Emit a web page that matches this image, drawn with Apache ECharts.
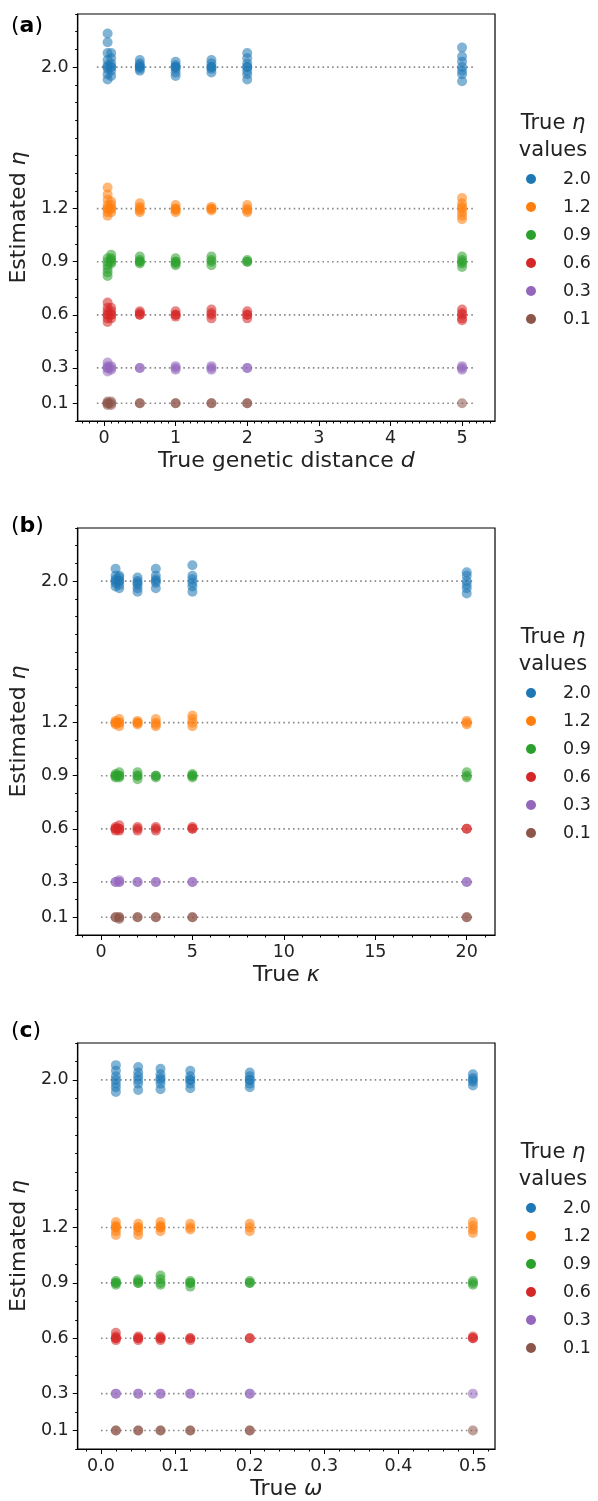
<!DOCTYPE html>
<html>
<head>
<meta charset="utf-8">
<script src="https://cdn.jsdelivr.net/npm/echarts@6/dist/echarts.min.js"></script>
<style>
  html, body { margin: 0; padding: 0; background: #fff; }
  #chart { width: 598px; height: 1501px; }
</style>
</head>
<body>
<div id="chart"></div>
<script>
// true eta values + colours (tab10)
const etaNames = ['2.0', '1.2', '0.9', '0.6', '0.3', '0.1'];
const etaValues = [2.0, 1.2, 0.9, 0.6, 0.3, 0.1];
const etaColors = ['#1f77b4', '#ff7f0e', '#2ca02c', '#d62728', '#9467bd', '#8c564b'];
const yTicks = [0.1, 0.3, 0.6, 0.9, 1.2, 2.0];

// (a) true genetic distance d
const dValues = [0.05, 0.1, 0.5, 1, 1.5, 2, 5];
const xTicksA = [0, 1, 2, 3, 4, 5];
const estA_20 = [[2.19, 2.14, 2.08, 2.04, 2.01, 2.0, 1.99, 1.96, 1.93], [2.08, 2.05, 2.02, 2.0, 2.0, 1.98, 1.95], [2.04, 2.02, 2.01, 2.0, 2.0, 1.99, 1.98], [2.03, 2.01, 2.0, 2.0, 1.99, 1.97, 1.95], [2.04, 2.02, 2.0, 2.0, 1.99, 1.97], [2.08, 2.05, 2.02, 2.0, 2.0, 1.98, 1.96, 1.93], [2.11, 2.06, 2.03, 2.0, 1.98, 1.96, 1.92]];
const estA_12 = [[1.32, 1.28, 1.25, 1.22, 1.2, 1.2, 1.18, 1.16], [1.24, 1.22, 1.2, 1.2, 1.18], [1.23, 1.21, 1.2, 1.19, 1.18], [1.22, 1.2, 1.2, 1.19, 1.18], [1.21, 1.2, 1.2, 1.19], [1.22, 1.2, 1.19, 1.18], [1.26, 1.23, 1.21, 1.2, 1.18, 1.16, 1.14]];
const estA_09 = [[0.92, 0.9, 0.88, 0.86, 0.84, 0.82], [0.94, 0.92, 0.91, 0.9, 0.89], [0.93, 0.91, 0.9, 0.9, 0.89], [0.92, 0.9, 0.9, 0.89, 0.88], [0.93, 0.91, 0.9, 0.88], [0.91, 0.9, 0.9], [0.93, 0.91, 0.9, 0.89, 0.87]];
const estA_06 = [[0.67, 0.64, 0.62, 0.6, 0.6, 0.58, 0.56], [0.64, 0.62, 0.6, 0.6, 0.58], [0.62, 0.61, 0.6, 0.6], [0.62, 0.6, 0.6, 0.59], [0.63, 0.61, 0.6, 0.58], [0.62, 0.6, 0.6, 0.58], [0.63, 0.61, 0.6, 0.58, 0.57]];
const estA_03 = [[0.33, 0.31, 0.3, 0.3, 0.28], [0.31, 0.3, 0.29], [0.3, 0.3], [0.31, 0.3, 0.29], [0.31, 0.3, 0.29], [0.3, 0.3], [0.31, 0.3, 0.29]];
const estA_01 = [[0.11, 0.1, 0.1, 0.09], [0.11, 0.1, 0.09], [0.1, 0.1], [0.1, 0.1], [0.1, 0.1], [0.1, 0.1], [0.1]];

// (b) true kappa
const kappaValues = [0.8, 1, 2, 3, 5, 20];
const xTicksB = [0, 5, 10, 15, 20];
const estB_20 = [[2.07, 2.03, 2.01, 2.0, 1.99, 1.97], [2.03, 2.02, 2.0, 2.0, 1.98, 1.96], [2.02, 2.0, 1.99, 1.98, 1.96, 1.94], [2.07, 2.03, 2.01, 2.0, 1.99, 1.96], [2.09, 2.03, 2.01, 1.99, 1.97, 1.94], [2.05, 2.03, 2.0, 1.98, 1.96, 1.93]];
const estB_12 = [[1.21, 1.2, 1.2, 1.19], [1.22, 1.2, 1.2, 1.18], [1.21, 1.2, 1.2, 1.19], [1.22, 1.2, 1.19, 1.18], [1.24, 1.22, 1.2, 1.18], [1.21, 1.2, 1.19]];
const estB_09 = [[0.91, 0.9, 0.9, 0.89], [0.92, 0.9, 0.9, 0.89], [0.92, 0.9, 0.9, 0.88], [0.9, 0.9, 0.89], [0.91, 0.9, 0.9, 0.89], [0.92, 0.9, 0.89]];
const estB_06 = [[0.61, 0.6, 0.6, 0.59], [0.62, 0.6, 0.6, 0.59], [0.61, 0.6, 0.59], [0.61, 0.6, 0.59], [0.61, 0.6, 0.6], [0.6, 0.6]];
const estB_03 = [[0.3, 0.3], [0.31, 0.3, 0.3], [0.3, 0.3], [0.3, 0.3], [0.3, 0.3], [0.3, 0.3]];
const estB_01 = [[0.1, 0.1], [0.1, 0.1, 0.09], [0.1, 0.1], [0.1, 0.1], [0.1, 0.1], [0.1, 0.1]];

// (c) true omega
const omegaValues = [0.02, 0.05, 0.08, 0.12, 0.2, 0.5];
const xTicksC = [0.0, 0.1, 0.2, 0.3, 0.4, 0.5];
const estC_20 = [[2.08, 2.05, 2.02, 2.0, 1.98, 1.96, 1.935], [2.07, 2.04, 2.02, 2.0, 1.98, 1.945], [2.06, 2.03, 2.01, 2.0, 1.98, 1.95], [2.05, 2.02, 2.0, 2.0, 1.98, 1.955], [2.04, 2.02, 2.0, 2.0, 1.98, 1.96], [2.03, 2.01, 2.0, 1.99, 1.97]];
const estC_12 = [[1.23, 1.21, 1.2, 1.2, 1.18, 1.16], [1.22, 1.2, 1.2, 1.18, 1.16], [1.23, 1.21, 1.2, 1.2, 1.18], [1.22, 1.2, 1.19], [1.22, 1.2, 1.18], [1.23, 1.21, 1.19, 1.17]];
const estC_09 = [[0.91, 0.9, 0.9, 0.89], [0.92, 0.91, 0.9, 0.9], [0.94, 0.92, 0.9, 0.89], [0.91, 0.9, 0.9, 0.88], [0.91, 0.9, 0.9], [0.91, 0.9, 0.89]];
const estC_06 = [[0.63, 0.61, 0.6, 0.6, 0.59], [0.61, 0.6, 0.6, 0.59], [0.61, 0.6, 0.6, 0.59], [0.6, 0.6, 0.59], [0.6, 0.6], [0.61, 0.6, 0.6]];
const estC_03 = [[0.3, 0.3], [0.3, 0.3], [0.3, 0.3], [0.3, 0.3], [0.3, 0.3], [0.3]];
const estC_01 = [[0.1, 0.1], [0.1, 0.1], [0.1, 0.1], [0.1, 0.1], [0.1, 0.1], [0.1]];

// reference (dotted) line extent per panel
const refSpanA = [-0.1, 5.18];
const refSpanB = [0, 20.36];
const refSpanC = [0, 0.505];

const FONT = 'DejaVu Sans';

function range(start, stop, step) {
    const out = [];
    const n = Math.round((stop - start) / step);
    for (let i = 0; i <= n; i++) out.push(+(start + i * step).toFixed(4));
    return out;
}

const panels = [
    { tag: 'a', top: 14, height: 407, xMin: -0.367, xMax: 5.46, yMax: 2.3, xs: dValues, xTicks: xTicksA, xMinor: range(-0.3, 5.4, 0.1), xFmt: v => String(Math.round(v)),
      est: [estA_20, estA_12, estA_09, estA_06, estA_03, estA_01], span: refSpanA, xName: 'True genetic distance {i|d}' },
    { tag: 'b', top: 528, height: 407, xMin: -1.27, xMax: 21.545, yMax: 2.3, xs: kappaValues, xTicks: xTicksB, xMinor: range(-1, 21, 1), xFmt: v => String(Math.round(v)),
      est: [estB_20, estB_12, estB_09, estB_06, estB_03, estB_01], span: refSpanB, xName: 'True {i|κ}' },
    { tag: 'c', top: 1043, height: 406, xMin: -0.0313, xMax: 0.5297, yMax: 2.2, xs: omegaValues, xTicks: xTicksC, xMinor: range(-0.02, 0.52, 0.02), xFmt: v => v.toFixed(1),
      est: [estC_20, estC_12, estC_09, estC_06, estC_03, estC_01], span: refSpanC, xName: 'True {i|ω}' }
];

const grid = [], xAxis = [], yAxis = [], series = [], legend = [], title = [];
const labelColor = '#222';

panels.forEach((p, gi) => {
    grid.push({ left: 77, top: p.top, width: 418, height: p.height, show: true, borderColor: '#000', borderWidth: 1.2 });

    const rich = { i: { fontFamily: FONT, fontStyle: 'italic', fontSize: 22, color: labelColor } };

    // main x axis (labels + major ticks)
    xAxis.push({
        gridIndex: gi, type: 'value', min: p.xMin, max: p.xMax, position: 'bottom',
        axisLine: { show: true, onZero: false, lineStyle: { color: '#000', width: 1.2 } },
        axisTick: { show: true, customValues: p.xTicks, length: 5, lineStyle: { color: '#000', width: 1 } },
        axisLabel: { customValues: p.xTicks, formatter: p.xFmt, fontFamily: FONT, fontSize: 17.5, color: labelColor, margin: 8 },
        splitLine: { show: false },
        name: p.xName, nameLocation: 'middle', nameGap: 29,
        nameTextStyle: { fontFamily: FONT, fontSize: 22, color: labelColor, rich: rich }
    });
    // minor x ticks
    xAxis.push({
        gridIndex: gi, type: 'value', min: p.xMin, max: p.xMax, position: 'bottom',
        axisLine: { show: false, onZero: false },
        axisTick: { show: true, customValues: p.xMinor, length: 2.5, lineStyle: { color: '#000', width: 1 } },
        axisLabel: { show: false }, splitLine: { show: false }
    });

    yAxis.push({
        gridIndex: gi, type: 'value', min: 0, max: p.yMax, position: 'left',
        axisLine: { show: true, onZero: false, lineStyle: { color: '#000', width: 1.2 } },
        axisTick: { show: true, customValues: yTicks, length: 5, lineStyle: { color: '#000', width: 1 } },
        axisLabel: { customValues: yTicks, formatter: v => v.toFixed(1), fontFamily: FONT, fontSize: 17.5, color: labelColor, margin: 9 },
        splitLine: { show: false },
        name: 'Estimated {i|η}', nameLocation: 'middle', nameGap: 41,
        nameTextStyle: { fontFamily: FONT, fontSize: 22, color: labelColor, rich: rich }
    });
    yAxis.push({
        gridIndex: gi, type: 'value', min: 0, max: p.yMax, position: 'left',
        axisLine: { show: false, onZero: false },
        axisTick: { show: true, customValues: range(0, p.yMax, 0.1), length: 2.5, lineStyle: { color: '#000', width: 1 } },
        axisLabel: { show: false }, splitLine: { show: false }
    });

    // dotted reference lines
    etaValues.forEach(v => {
        series.push({
            name: 'ref', type: 'line', xAxisIndex: gi * 2, yAxisIndex: gi * 2,
            data: [[p.span[0], v], [p.span[1], v]], symbol: 'none', silent: true, z: 1,
            lineStyle: { color: '#8a8a8a', width: 1.6, type: [1.6, 3.2] }
        });
    });

    // estimated eta points
    etaNames.forEach((name, k) => {
        const data = [];
        p.xs.forEach((x, j) => { p.est[k][j].forEach(y => data.push([x, y])); });
        series.push({
            name: name, type: 'scatter', xAxisIndex: gi * 2, yAxisIndex: gi * 2,
            data: data, symbolSize: 10, z: 3,
            itemStyle: { color: etaColors[k], opacity: 0.56 }
        });
    });

    legend.push({
        data: etaNames, orient: 'vertical', left: 526, top: p.top + 156, padding: 0,
        icon: 'circle', itemWidth: 10, itemHeight: 10, itemGap: 10,
        itemStyle: { opacity: 1 },
        selectedMode: false,
        textStyle: { fontFamily: FONT, fontSize: 17.5, color: labelColor, padding: [0, 0, 0, 22] }
    });

    title.push({
        text: 'True {i|η}\nvalues', left: 553, top: p.top + 96, textAlign: 'center', padding: 0,
        textStyle: { fontFamily: FONT, fontSize: 21, fontWeight: 'normal', color: labelColor, lineHeight: 27,
            rich: { i: { fontFamily: FONT, fontStyle: 'italic', fontSize: 21, color: labelColor, lineHeight: 27 } } }
    });
    title.push({
        text: '({b|' + p.tag + '})', left: 11, top: [15, 515, 1020][gi], padding: 0,
        textStyle: { fontFamily: FONT, fontSize: 22, fontWeight: 'normal', color: '#000',
            rich: { b: { fontFamily: FONT, fontSize: 22, fontWeight: 'bold', color: '#000' } } }
    });
});

const myChart = echarts.init(document.getElementById('chart'), null, { renderer: 'canvas' });
myChart.setOption({
    animation: false,
    backgroundColor: '#fff',
    title: title,
    legend: legend,
    grid: grid,
    xAxis: xAxis,
    yAxis: yAxis,
    series: series
});
</script>
</body>
</html>
